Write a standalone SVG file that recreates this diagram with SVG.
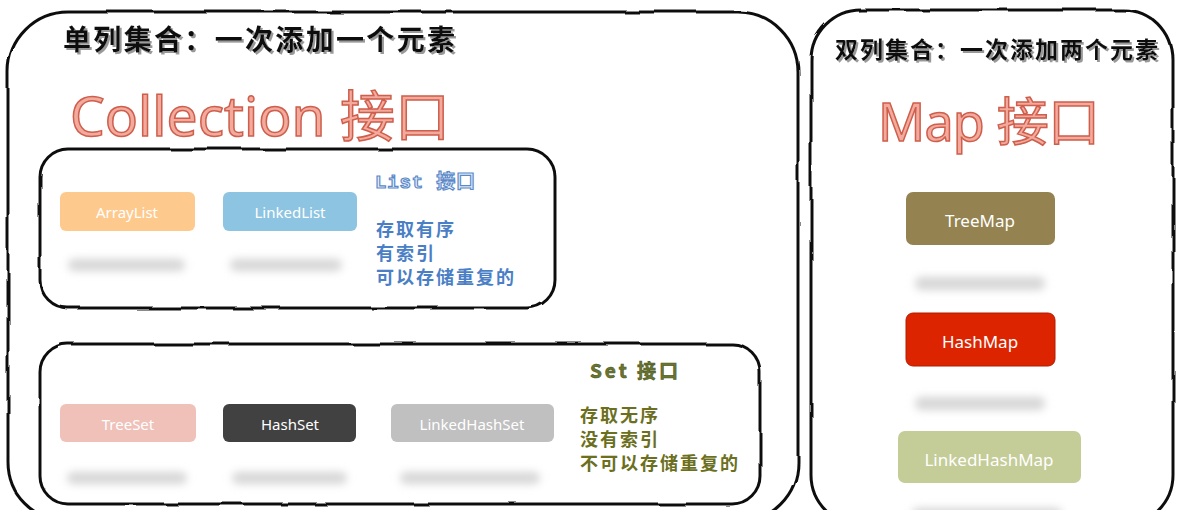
<svg xmlns="http://www.w3.org/2000/svg" width="1177" height="510" viewBox="0 0 1177 510">
<defs>
<filter id="blur" x="-20%" y="-100%" width="140%" height="300%"><feGaussianBlur stdDeviation="4"/></filter>
<filter id="tshadow" x="-5%" y="-20%" width="110%" height="150%"><feDropShadow dx="2" dy="2" stdDeviation="0.6" flood-color="#999"/></filter>
<filter id="rough" x="-5%" y="-5%" width="110%" height="110%"><feTurbulence type="fractalNoise" baseFrequency="0.02" numOctaves="2" seed="3"/><feDisplacementMap in="SourceGraphic" scale="4"/></filter>
</defs>
<style>
.frame{fill:none;stroke:#111;stroke-width:3;filter:url(#rough);}
.title{font-family:"Noto Sans CJK SC",sans-serif;font-weight:bold;fill:#111;}
.big{font-family:"Noto Sans","Noto Sans CJK SC",sans-serif;fill:#f2aa9c;stroke:#cf5e4c;stroke-width:1.5;}
.node text{font-family:"Noto Sans","Liberation Sans",sans-serif;font-size:15px;fill:#fff;text-anchor:middle;}
.shadow{fill:#d6d6d6;filter:url(#blur);}
.blue{font-family:"Noto Sans CJK SC",sans-serif;font-size:18px;font-weight:bold;fill:#4a7fc6;letter-spacing:2px;}
.olive{font-family:"Noto Sans CJK SC",sans-serif;font-size:18px;font-weight:bold;fill:#6b6f1e;letter-spacing:2px;}
</style>
<g id="single-column">
<rect class="frame" x="8" y="12" width="790" height="510" rx="60"/>
<text class="title" x="63" y="50" font-size="28" filter="url(#tshadow)" textLength="392">单列集合：一次添加一个元素</text>
<text class="big" x="70" y="136" font-size="55" textLength="380">Collection 接口</text>
</g>
<g id="list-group">
<rect class="frame" x="40" y="149" width="515" height="159" rx="28"/>
<text x="375" y="188" font-family="Liberation Mono,Noto Sans CJK SC,monospace" font-size="19" font-weight="bold" fill="#e8f0fa" stroke="#5b8ac9" stroke-width="1.2" textLength="100">List 接口</text>
<text class="blue" x="376" y="236">存取有序</text>
<text class="blue" x="376" y="260">有索引</text>
<text class="blue" x="376" y="284">可以存储重复的</text>
</g>
<g id="ArrayList" class="node">
<rect x="60" y="192" width="135" height="39" rx="6" fill="#fec98c"/>
<text x="127" y="218">ArrayList</text>
<rect class="shadow" x="68" y="259" width="117" height="12" rx="6"/>
</g>
<g id="LinkedList" class="node">
<rect x="223" y="192" width="134" height="39" rx="6" fill="#8dc4e2"/>
<text x="290" y="218">LinkedList</text>
<rect class="shadow" x="230" y="259" width="112" height="12" rx="6"/>
</g>
<g id="set-group">
<rect class="frame" x="40" y="344" width="720" height="160" rx="28"/>
<text x="590" y="378" font-family="Noto Sans CJK SC,sans-serif" font-size="19" font-weight="bold" fill="#6b7530" stroke="#4b5520" stroke-width="0.6" textLength="88">Set 接口</text>
<text class="olive" x="580" y="422">存取无序</text>
<text class="olive" x="580" y="446">没有索引</text>
<text class="olive" x="580" y="470">不可以存储重复的</text>
</g>
<g id="TreeSet" class="node">
<rect x="60" y="404" width="136" height="38" rx="6" fill="#efc1b9"/>
<text x="128" y="430">TreeSet</text>
<rect class="shadow" x="67" y="472" width="120" height="12" rx="6"/>
</g>
<g id="HashSet" class="node">
<rect x="223" y="404" width="133" height="38" rx="6" fill="#414141"/>
<text x="290" y="430">HashSet</text>
<rect class="shadow" x="232" y="472" width="115" height="12" rx="6"/>
</g>
<g id="LinkedHashSet" class="node">
<rect x="391" y="404" width="163" height="38" rx="6" fill="#c0c0c0"/>
<text x="472" y="430">LinkedHashSet</text>
<rect class="shadow" x="400" y="472" width="140" height="12" rx="6"/>
</g>
<g id="double-column">
<rect class="frame" x="811" y="10" width="362" height="515" rx="50"/>
<text class="title" x="835" y="58" font-size="23" filter="url(#tshadow)" textLength="323">双列集合：一次添加两个元素</text>
<text class="big" x="878" y="141" font-size="52" textLength="222">Map 接口</text>
</g>
<g id="TreeMap" class="node">
<rect x="906" y="192" width="149" height="53" rx="7" fill="#948350"/>
<text x="980" y="227" style="font-size:17px">TreeMap</text>
<rect class="shadow" x="915" y="277" width="130" height="13" rx="6"/>
</g>
<g id="HashMap" class="node">
<rect x="906" y="313" width="149" height="53" rx="7" fill="#dd2400" stroke="#b01c00" stroke-width="1"/>
<text x="980" y="348" style="font-size:17px">HashMap</text>
<rect class="shadow" x="915" y="397" width="130" height="13" rx="6"/>
</g>
<g id="LinkedHashMap" class="node">
<rect x="898" y="431" width="183" height="52" rx="7" fill="#c4cc98"/>
<text x="989" y="466" style="font-size:17px">LinkedHashMap</text>
<rect class="shadow" x="912" y="508" width="150" height="12" rx="6"/>
</g>
<g id="connectors"></g>
</svg>
